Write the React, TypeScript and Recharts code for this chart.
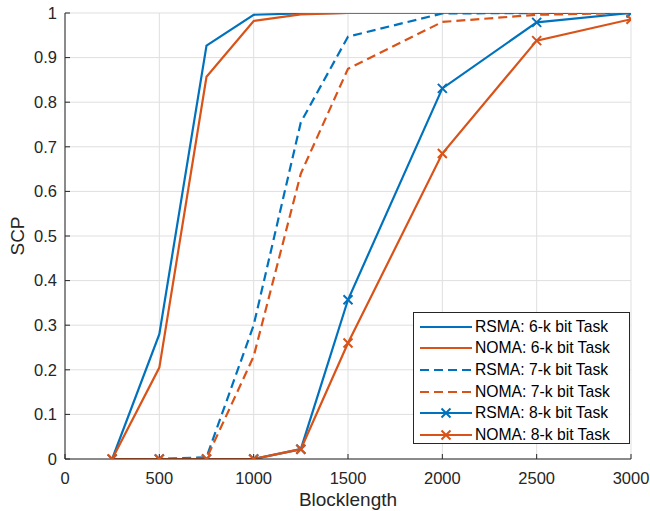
import React from 'react';
import { LineChart, Line, XAxis, YAxis, CartesianGrid, Legend } from 'recharts';

const blocklength = [250, 500, 750, 1000, 1250, 1500, 2000, 2500, 3000];
const rsma6k = [0, 0.28, 0.927, 0.996, 0.999, 1, 1, 1, 1];
const noma6k = [0, 0.205, 0.857, 0.982, 0.997, 1, 1, 1, 1];
const rsma7k = [0, 0, 0.004, 0.3, 0.755, 0.947, 0.999, 1, 1];
const noma7k = [0, 0, 0.001, 0.23, 0.64, 0.875, 0.98, 0.996, 1];
const rsma8k = [0, 0, 0, 0, 0.022, 0.357, 0.831, 0.979, 1];
const noma8k = [0, 0, 0, 0, 0.022, 0.26, 0.685, 0.938, 0.986];

const xTicks = [0, 500, 1000, 1500, 2000, 2500, 3000];
const yTicks = [0, 0.1, 0.2, 0.3, 0.4, 0.5, 0.6, 0.7, 0.8, 0.9, 1];
const yTickLabels = ['0', '0.1', '0.2', '0.3', '0.4', '0.5', '0.6', '0.7', '0.8', '0.9', '1'];

const seriesNames = [
  'RSMA: 6-k bit Task',
  'NOMA: 6-k bit Task',
  'RSMA: 7-k bit Task',
  'NOMA: 7-k bit Task',
  'RSMA: 8-k bit Task',
  'NOMA: 8-k bit Task',
];

const BLUE = '#0072BD';
const ORANGE = '#D95319';
const AXIS = '#262626';
const FONT = '"Liberation Sans", Arial, Helvetica, sans-serif';

const data = blocklength.map((b, i) => ({
  b,
  rsma6k: rsma6k[i],
  noma6k: noma6k[i],
  rsma7k: rsma7k[i],
  noma7k: noma7k[i],
  rsma8k: rsma8k[i],
  noma8k: noma8k[i],
}));

const CrossDot = (props: any) => {
  const { cx, cy, stroke } = props;
  if (cx == null || cy == null) return null;
  const s = 4.5;
  return (
    <path
      d={`M${cx - s},${cy - s}L${cx + s},${cy + s}M${cx - s},${cy + s}L${cx + s},${cy - s}`}
      stroke={stroke}
      strokeWidth={2}
      fill="none"
    />
  );
};

const legendItems = [
  { name: seriesNames[0], color: BLUE, dash: undefined, marker: false },
  { name: seriesNames[1], color: ORANGE, dash: undefined, marker: false },
  { name: seriesNames[2], color: BLUE, dash: '9 5', marker: false },
  { name: seriesNames[3], color: ORANGE, dash: '9 5', marker: false },
  { name: seriesNames[4], color: BLUE, dash: undefined, marker: true },
  { name: seriesNames[5], color: ORANGE, dash: undefined, marker: true },
];

const LegendBox = () => (
  <div
    style={{
      width: 217,
      height: 132,
      boxSizing: 'border-box',
      border: `1px solid ${AXIS}`,
      background: '#fff',
      paddingTop: 3,
      fontFamily: FONT,
      fontSize: 15.7,
      color: '#000',
    }}
  >
    {legendItems.map((it) => (
      <div key={it.name} style={{ display: 'flex', alignItems: 'center', height: 21.6 }}>
        <svg width={60} height={12} style={{ marginLeft: 4, flex: 'none' }}>
          <line x1={2} y1={6} x2={54} y2={6} stroke={it.color} strokeWidth={2.2} strokeDasharray={it.dash} />
          {it.marker && <CrossDot cx={28} cy={6} stroke={it.color} />}
        </svg>
        <span style={{ whiteSpace: 'nowrap', marginLeft: -3 }}>{it.name}</span>
      </div>
    ))}
  </div>
);

export default function App() {
  return (
    <div style={{ position: 'absolute', left: 0, top: 0, width: 650, height: 511, background: '#fff' }}>
      <LineChart
        width={650}
        height={511}
        data={data}
        margin={{ top: 13, right: 19, bottom: 0, left: 0 }}
      >
        <CartesianGrid stroke="#dfdfdf" strokeWidth={1} />
        <XAxis
          dataKey="b"
          type="number"
          domain={[0, 3000]}
          ticks={xTicks}
          allowDataOverflow
          height={52}
          tickSize={-5}
          tickMargin={18}
          stroke={AXIS}
          axisLine={{ stroke: AXIS }}
          tickLine={{ stroke: AXIS }}
          tick={{ fill: AXIS, fontSize: 16.5, fontFamily: FONT }}
          label={{ value: 'Blocklength', position: 'insideBottom', offset: 5.5, fill: AXIS, fontSize: 19, fontFamily: FONT }}
        />
        <XAxis
          xAxisId="top"
          orientation="top"
          dataKey="b"
          type="number"
          domain={[0, 3000]}
          ticks={xTicks}
          allowDataOverflow
          height={0}
          tickSize={-5}
          stroke={AXIS}
          tick={false}
        />
        <YAxis
          type="number"
          domain={[0, 1]}
          ticks={yTicks}
          allowDataOverflow
          width={65}
          tickSize={-5}
          tickMargin={13}
          stroke={AXIS}
          tickFormatter={(v: number, i: number) => yTickLabels[i]}
          tick={{ fill: AXIS, fontSize: 16.5, fontFamily: FONT }}
          label={{
            value: 'SCP',
            angle: -90,
            position: 'insideLeft',
            offset: 17.5,
            fill: AXIS,
            fontSize: 19,
            fontFamily: FONT,
            style: { textAnchor: 'middle' },
          }}
        />
        <YAxis
          yAxisId="right"
          orientation="right"
          type="number"
          domain={[0, 1]}
          ticks={yTicks}
          allowDataOverflow
          width={0}
          tickSize={-5}
          stroke={AXIS}
          tick={false}
        />
        <Line dataKey="rsma6k" name={seriesNames[0]} stroke={BLUE} strokeWidth={2.2} dot={false} isAnimationActive={false} />
        <Line dataKey="noma6k" name={seriesNames[1]} stroke={ORANGE} strokeWidth={2.2} dot={false} isAnimationActive={false} />
        <Line dataKey="rsma7k" name={seriesNames[2]} stroke={BLUE} strokeWidth={2.2} strokeDasharray="9 5" dot={false} isAnimationActive={false} />
        <Line dataKey="noma7k" name={seriesNames[3]} stroke={ORANGE} strokeWidth={2.2} strokeDasharray="9 5" dot={false} isAnimationActive={false} />
        <Line dataKey="rsma8k" name={seriesNames[4]} stroke={BLUE} strokeWidth={2.2} dot={<CrossDot />} isAnimationActive={false} />
        <Line dataKey="noma8k" name={seriesNames[5]} stroke={ORANGE} strokeWidth={2.2} dot={<CrossDot />} isAnimationActive={false} />
        <Legend
          layout="vertical"
          align="center"
          verticalAlign="middle"
          wrapperStyle={{ position: 'absolute', left: 413, top: 312, width: 217, height: 132 }}
          content={() => <LegendBox />}
        />
      </LineChart>
    </div>
  );
}
